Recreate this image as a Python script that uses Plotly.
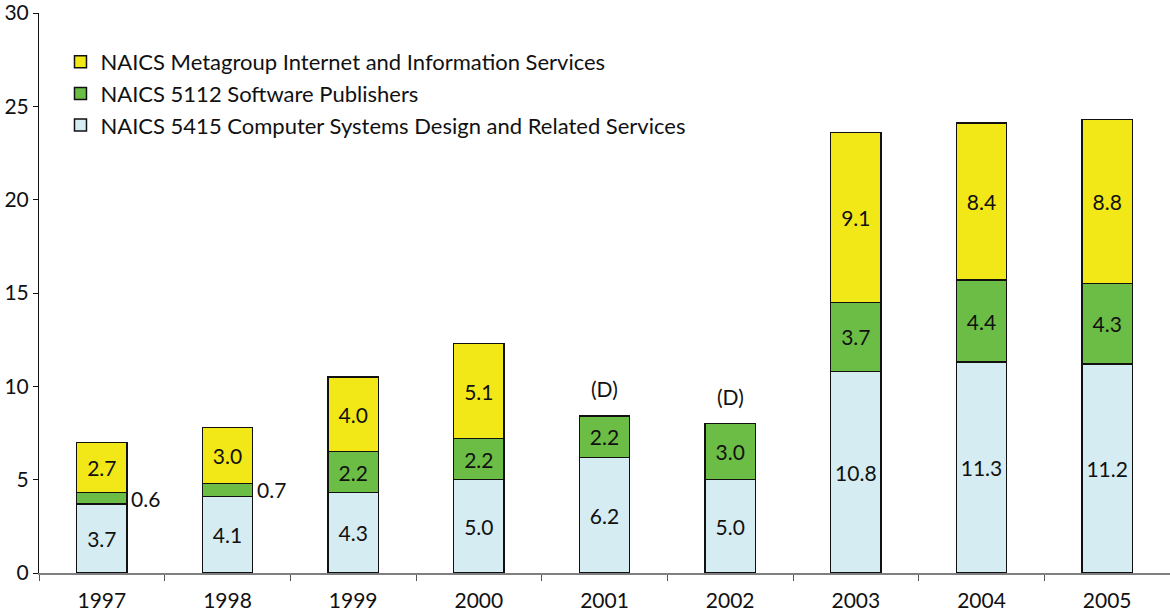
import plotly.graph_objects as go

years = ["1997", "1998", "1999", "2000", "2001", "2002", "2003", "2004", "2005"]
computer_systems = [3.7, 4.1, 4.3, 5.0, 6.2, 5.0, 10.8, 11.3, 11.2]
software_publishers = [0.6, 0.7, 2.2, 2.2, 2.2, 3.0, 3.7, 4.4, 4.3]
internet_info = [2.7, 3.0, 4.0, 5.1, None, None, 9.1, 8.4, 8.8]
withheld_years = ["2001", "2002"]
outside_label_years = ["1997", "1998"]

names = [
    "NAICS 5415 Computer Systems Design and Related Services",
    "NAICS 5112 Software Publishers",
    "NAICS Metagroup Internet and Information Services",
]
colors = ["#D5ECF3", "#6CBD45", "#F3E817"]

FONT = "Lato"
fig = go.Figure()

series = [computer_systems, software_publishers, internet_info]
for name, vals, col in zip(names, series, colors):
    texts = []
    for y, v in zip(years, vals):
        if v is None or (vals is software_publishers and y in outside_label_years):
            texts.append("")
        else:
            texts.append(f"{v:.1f}")
    fig.add_trace(go.Bar(
        x=years, y=vals, name=name,
        marker=dict(color=col, line=dict(color="#111111", width=1.5)),
        text=texts, textposition="inside", insidetextanchor="middle",
        textangle=0, constraintext="none",
        textfont=dict(family=FONT, size=21, color="#111111"),
        width=0.4,
    ))

# annotations use category indices on the x axis
annotations = []
for i, y in enumerate(years):
    if y in outside_label_years:
        annotations.append(dict(
            x=i, y=computer_systems[i] + software_publishers[i] / 2,
            text=f"{software_publishers[i]:.1f}", showarrow=False,
            xanchor="left", yanchor="middle", xshift=27,
            font=dict(family=FONT, size=21, color="#111111"),
        ))
    if y in withheld_years:
        annotations.append(dict(
            x=i, y=computer_systems[i] + software_publishers[i],
            text="(D)", showarrow=False, xanchor="center", yanchor="bottom",
            yshift=13, font=dict(family=FONT, size=21, color="#111111"),
        ))

fig.update_layout(
    barmode="stack",
    width=1170, height=615,
    margin=dict(l=39, r=0, t=13, b=42, autoexpand=False),
    plot_bgcolor="white", paper_bgcolor="white",
    font=dict(family=FONT, size=21, color="#111111"),
    showlegend=True,
    legend=dict(
        x=0.019, y=0.95, xanchor="left", yanchor="top",
        traceorder="reversed", bgcolor="rgba(0,0,0,0)",
        font=dict(family=FONT, size=22, color="#111111"),
        itemwidth=30, tracegroupgap=0,
    ),
    annotations=annotations,
)
fig.update_yaxes(
    range=[0, 30], tickvals=[0, 5, 10, 15, 20, 25, 30],
    showgrid=False, zeroline=False,
    showline=True, linecolor="#111111", linewidth=1,
    ticks="outside", ticklen=5, tickcolor="#111111",
    ticklabeloverflow="allow",
    tickfont=dict(family=FONT, size=21, color="#111111"),
)
fig.update_xaxes(
    type="category", range=[-0.5, len(years) - 0.5], tickangle=0,
    showgrid=False, showline=True, linecolor="#7f7f7f", linewidth=1.5,
    ticks="outside", tickson="boundaries", ticklen=6, tickcolor="#555555",
    ticklabelstandoff=8, ticklabeloverflow="allow",
    tickfont=dict(family=FONT, size=21, color="#111111"),
)

fig.write_html("out.html")
